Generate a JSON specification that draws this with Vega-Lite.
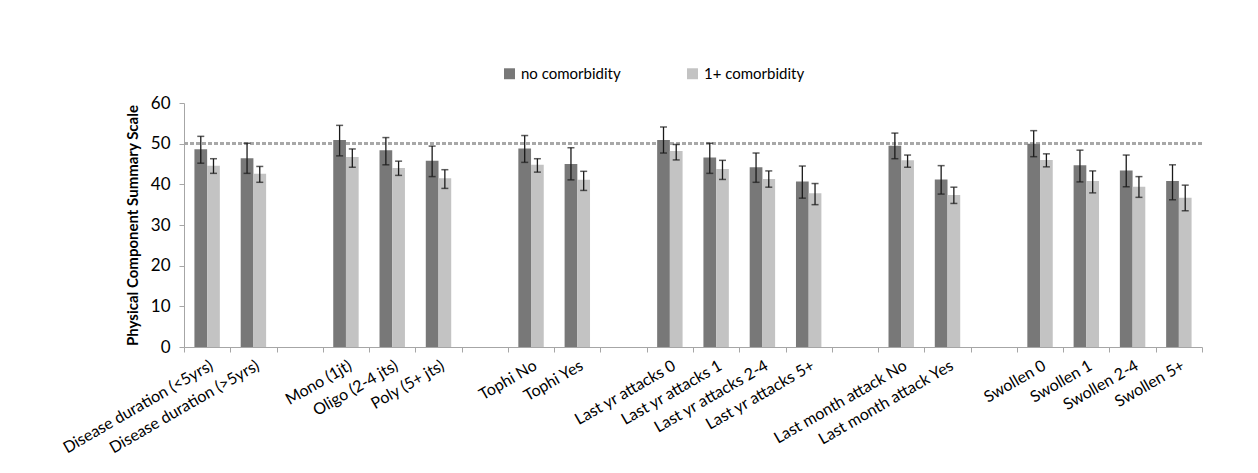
{
  "$schema": "https://vega.github.io/schema/vega-lite/v6.json",
  "width": 1018,
  "height": 244,
  "autosize": {"type": "none"},
  "padding": {"left": 184, "top": 103, "right": 56, "bottom": 126},
  "background": "white",
  "config": {
    "font": "Lato",
    "view": {"stroke": null},
    "axis": {"labelFont": "Lato", "titleFont": "Lato", "labelColor": "#000000", "titleColor": "#000000"}
  },
  "data": {
    "values": [
      {"cat": "Disease duration (<5yrs)", "grp": "no comorbidity", "v": 48.6, "lo": 45.2, "hi": 51.8},
      {"cat": "Disease duration (<5yrs)", "grp": "1+ comorbidity", "v": 44.6, "lo": 42.7, "hi": 46.3},
      {"cat": "Disease duration (>5yrs)", "grp": "no comorbidity", "v": 46.4, "lo": 42.7, "hi": 50.1},
      {"cat": "Disease duration (>5yrs)", "grp": "1+ comorbidity", "v": 42.6, "lo": 40.5, "hi": 44.4},
      {"cat": "Mono (1jt)", "grp": "no comorbidity", "v": 50.9, "lo": 47.0, "hi": 54.5},
      {"cat": "Mono (1jt)", "grp": "1+ comorbidity", "v": 46.7, "lo": 44.2, "hi": 48.7},
      {"cat": "Oligo (2-4 jts)", "grp": "no comorbidity", "v": 48.4, "lo": 44.8, "hi": 51.5},
      {"cat": "Oligo (2-4 jts)", "grp": "1+ comorbidity", "v": 44.0, "lo": 42.2, "hi": 45.7},
      {"cat": "Poly (5+ jts)", "grp": "no comorbidity", "v": 45.8, "lo": 41.9, "hi": 49.4},
      {"cat": "Poly (5+ jts)", "grp": "1+ comorbidity", "v": 41.5, "lo": 39.0, "hi": 43.6},
      {"cat": "Tophi No", "grp": "no comorbidity", "v": 48.8, "lo": 45.4, "hi": 52.0},
      {"cat": "Tophi No", "grp": "1+ comorbidity", "v": 44.8, "lo": 43.0, "hi": 46.3},
      {"cat": "Tophi Yes", "grp": "no comorbidity", "v": 45.0, "lo": 41.1, "hi": 49.0},
      {"cat": "Tophi Yes", "grp": "1+ comorbidity", "v": 41.1, "lo": 38.5, "hi": 43.2},
      {"cat": "Last yr attacks 0", "grp": "no comorbidity", "v": 50.9, "lo": 47.7, "hi": 54.1},
      {"cat": "Last yr attacks 0", "grp": "1+ comorbidity", "v": 48.2, "lo": 46.0, "hi": 49.8},
      {"cat": "Last yr attacks 1", "grp": "no comorbidity", "v": 46.6, "lo": 42.7, "hi": 50.1},
      {"cat": "Last yr attacks 1", "grp": "1+ comorbidity", "v": 43.8, "lo": 41.2, "hi": 45.9},
      {"cat": "Last yr attacks 2-4", "grp": "no comorbidity", "v": 44.2, "lo": 40.5, "hi": 47.7},
      {"cat": "Last yr attacks 2-4", "grp": "1+ comorbidity", "v": 41.3, "lo": 39.3, "hi": 43.3},
      {"cat": "Last yr attacks 5+", "grp": "no comorbidity", "v": 40.7, "lo": 36.6, "hi": 44.5},
      {"cat": "Last yr attacks 5+", "grp": "1+ comorbidity", "v": 37.8, "lo": 35.0, "hi": 40.2},
      {"cat": "Last month attack No", "grp": "no comorbidity", "v": 49.5, "lo": 46.3, "hi": 52.6},
      {"cat": "Last month attack No", "grp": "1+ comorbidity", "v": 45.9, "lo": 44.2, "hi": 47.2},
      {"cat": "Last month attack Yes", "grp": "no comorbidity", "v": 41.2, "lo": 37.6, "hi": 44.6},
      {"cat": "Last month attack Yes", "grp": "1+ comorbidity", "v": 37.4, "lo": 35.3, "hi": 39.3},
      {"cat": "Swollen 0", "grp": "no comorbidity", "v": 50.0, "lo": 46.8, "hi": 53.2},
      {"cat": "Swollen 0", "grp": "1+ comorbidity", "v": 46.0, "lo": 44.3, "hi": 47.5},
      {"cat": "Swollen 1", "grp": "no comorbidity", "v": 44.7, "lo": 40.6, "hi": 48.4},
      {"cat": "Swollen 1", "grp": "1+ comorbidity", "v": 40.8, "lo": 37.9, "hi": 43.3},
      {"cat": "Swollen 2-4", "grp": "no comorbidity", "v": 43.4, "lo": 39.4, "hi": 47.2},
      {"cat": "Swollen 2-4", "grp": "1+ comorbidity", "v": 39.4, "lo": 36.8, "hi": 41.9},
      {"cat": "Swollen 5+", "grp": "no comorbidity", "v": 40.8, "lo": 36.2, "hi": 44.8},
      {"cat": "Swollen 5+", "grp": "1+ comorbidity", "v": 36.7, "lo": 33.5, "hi": 39.8}
    ]
  },
  "encoding": {
    "x": {
      "field": "cat",
      "type": "nominal",
      "sort": null,
      "scale": {
        "domain": ["Disease duration (<5yrs)", "Disease duration (>5yrs)", " ", "Mono (1jt)", "Oligo (2-4 jts)", "Poly (5+ jts)", "  ", "Tophi No", "Tophi Yes", "   ", "Last yr attacks 0", "Last yr attacks 1", "Last yr attacks 2-4", "Last yr attacks 5+", "    ", "Last month attack No", "Last month attack Yes", "     ", "Swollen 0", "Swollen 1", "Swollen 2-4", "Swollen 5+"],
        "paddingInner": 0,
        "paddingOuter": 0
      },
      "axis": {
        "title": null,
        "labelAngle": -30,
        "labelAlign": "right",
        "labelBaseline": "top",
        "labelFontSize": 16,
        "labelPadding": 5,
        "tickBand": "extent",
        "tickSize": 5,
        "tickColor": "#a6a6a6",
        "domainColor": "#a6a6a6",
        "labelLimit": 300
      }
    },
    "xOffset": {
      "field": "grp",
      "type": "nominal",
      "sort": null,
      "scale": {"domain": ["no comorbidity", "1+ comorbidity"], "paddingInner": 0, "paddingOuter": 0.82}
    }
  },
  "layer": [
    {
      "mark": {"type": "rule", "color": "#a8a8a8", "strokeWidth": 2, "strokeDash": [4, 2]},
      "encoding": {
        "x": null,
        "xOffset": null,
        "y": {"datum": 50, "type": "quantitative", "scale": {"domain": [0, 60], "nice": false}, "title": "Physical Component Summary Scale"}
      }
    },
    {
      "mark": {"type": "bar"},
      "encoding": {
        "y": {
          "field": "v",
          "type": "quantitative",
          "scale": {"domain": [0, 60], "nice": false},
          "title": "Physical Component Summary Scale",
          "axis": {
            "values": [0, 10, 20, 30, 40, 50, 60],
            "titleFontSize": 15,
            "titleFontWeight": "bold",
            "titlePadding": 10,
            "labelFontSize": 17,
            "labelPadding": 9,
            "tickSize": 5,
            "tickColor": "#a6a6a6",
            "domainColor": "#a6a6a6",
            "gridColor": "#c4c4c4",
            "gridWidth": 1.2
          }
        },
        "color": {
          "field": "grp",
          "type": "nominal",
          "sort": null,
          "scale": {"domain": ["no comorbidity", "1+ comorbidity"], "range": ["#787878", "#c3c3c3"]},
          "legend": {
            "title": null,
            "orient": "none",
            "direction": "horizontal",
            "legendX": 318,
            "legendY": -37,
            "symbolType": "square",
            "symbolSize": 120,
            "symbolStrokeWidth": 0,
            "labelFontSize": 15,
            "labelFont": "Lato",
            "labelOffset": 4,
            "columnPadding": 64
          }
        }
      }
    },
    {
      "mark": {"type": "rule", "color": "#1a1a1a", "strokeWidth": 1.3},
      "encoding": {
        "y": {"field": "lo", "type": "quantitative", "title": "Physical Component Summary Scale"},
        "y2": {"field": "hi"}
      }
    },
    {
      "mark": {"type": "tick", "color": "#1a1a1a", "size": 7, "thickness": 1.5},
      "encoding": {
        "y": {"field": "hi", "type": "quantitative", "title": "Physical Component Summary Scale"}
      }
    },
    {
      "mark": {"type": "tick", "color": "#1a1a1a", "size": 7, "thickness": 1.5},
      "encoding": {
        "y": {"field": "lo", "type": "quantitative", "title": "Physical Component Summary Scale"}
      }
    }
  ]
}
